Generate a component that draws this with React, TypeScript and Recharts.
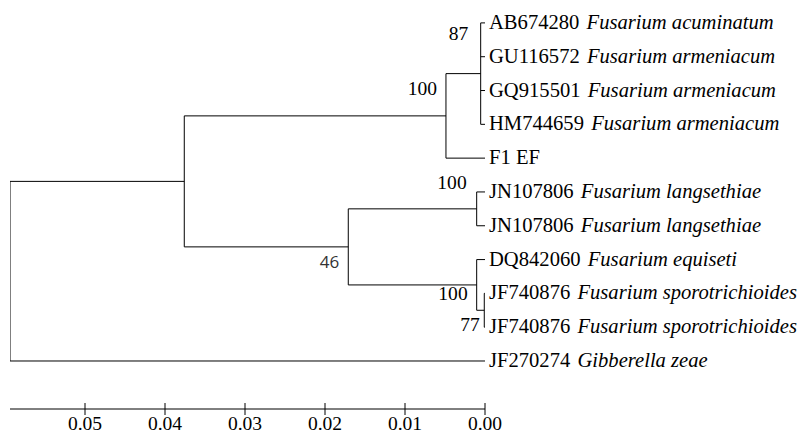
import React from "react";
import { ComposedChart, Line, XAxis, YAxis } from "recharts";

// ---- data ----
const tipAccessions = [
  "AB674280",
  "GU116572",
  "GQ915501",
  "HM744659",
  "F1 EF",
  "JN107806",
  "JN107806",
  "DQ842060",
  "JF740876",
  "JF740876",
  "JF270274",
];
const tipSpecies = [
  "Fusarium acuminatum",
  "Fusarium armeniacum",
  "Fusarium armeniacum",
  "Fusarium armeniacum",
  "",
  "Fusarium langsethiae",
  "Fusarium langsethiae",
  "Fusarium equiseti",
  "Fusarium sporotrichioides",
  "Fusarium sporotrichioides",
  "Gibberella zeae",
];
// internal nodes (children listed before parents)
const nodeIds = ["n87", "n100a", "n100b", "n77", "n100c", "n46", "nA", "root"];
const nodeDepths = [0.00054, 0.00488, 0.00104, 0.00009, 0.00104, 0.01709, 0.03759, 0.059375];
const nodeChildren = [
  ["t0", "t1", "t2", "t3"],
  ["n87", "t4"],
  ["t5", "t6"],
  ["t8", "t9"],
  ["t7", "n77"],
  ["n100b", "n100c"],
  ["n100a", "n46"],
  ["nA", "t10"],
];
const nodeSupport: (number | null)[] = [87, 100, 100, 77, 100, 46, null, null];
const scaleTicks = [0, 0.01, 0.02, 0.03, 0.04, 0.05];

// ---- styles (label placement relative to node, in px) ----
const supportLabelStyle = [
  { dx: -12.5, dy: -33.5, font: "serif" },
  { dx: -9, dy: -20.5, font: "serif" },
  { dx: -10, dy: -20, font: "serif" },
  { dx: -4.5, dy: 20.5, font: "serif" },
  { dx: -9, dy: 15.5, font: "serif" },
  { dx: -9, dy: 21.5, font: "sans" },
];

const SERIF = "'Liberation Serif', 'Times New Roman', Tinos, 'DejaVu Serif', serif";
const SANS = "'Open Sans', 'Noto Sans', sans-serif";
const FONT_SIZE = 20;
const STRETCH = 1.03;

// ---- tree layout from data ----
type P = { x: number; y: number };
const pos: Record<string, P> = {};
tipAccessions.forEach((_, i) => {
  pos["t" + i] = { x: 0, y: i };
});
nodeIds.forEach((id, k) => {
  const ch = nodeChildren[k].map((c) => pos[c]);
  pos[id] = { x: nodeDepths[k], y: (ch[0].y + ch[ch.length - 1].y) / 2 };
});

const segments: P[][] = [];
nodeIds.forEach((id, k) => {
  const d = nodeDepths[k];
  const ch = nodeChildren[k].map((c) => pos[c]);
  segments.push([
    { x: d, y: ch[0].y },
    { x: d, y: ch[ch.length - 1].y },
  ]);
  ch.forEach((c) => {
    segments.push([
      { x: d, y: c.y },
      { x: c.x, y: c.y },
    ]);
  });
});

const tipData = tipAccessions.map((acc, i) => ({
  x: 0,
  y: i,
  acc,
  species: tipSpecies[i],
}));

const supportData = nodeIds
  .map((id, k) => ({ ...pos[id], support: nodeSupport[k], k }))
  .filter((d) => d.support !== null);

// ---- renderers ----
const renderTipLabel = (props: any) => {
  const { x, y, index } = props;
  const d = tipData[index];
  if (!d) return null;
  return (
    <text
      key={"tip" + index}
      x={0}
      y={0}
      transform={`translate(${x + 4},${y + 6}) scale(${STRETCH},1)`}
      fontSize={FONT_SIZE}
      fill="#000"
      style={{ whiteSpace: "pre", fontFamily: SERIF }}
    >
      <tspan>{d.acc}</tspan>
      {d.species ? (
        <tspan fontStyle="italic" dx={7}>
          {d.species}
        </tspan>
      ) : null}
    </text>
  );
};

const renderSupportLabel = (props: any) => {
  const { x, y, index } = props;
  const d = supportData[index];
  if (!d) return null;
  const st = supportLabelStyle[d.k];
  const sans = st.font === "sans";
  return (
    <text
      key={"sup" + index}
      x={0}
      y={0}
      transform={`translate(${x + st.dx},${y + st.dy}) scale(${sans ? 1 : STRETCH},1)`}
      textAnchor="end"
      fontSize={sans ? 17 : FONT_SIZE - 1}
      fill={sans ? "#333" : "#000"}
      style={{ fontFamily: sans ? SANS : SERIF }}
    >
      {d.support}
    </text>
  );
};

const ScaleTick = (props: any) => {
  const { x, y, payload } = props;
  return (
    <g>
      <line x1={x} x2={x} y1={y - 12} y2={y - 6} stroke="#000" strokeWidth={1} />
      <text
        x={0}
        y={0}
        transform={`translate(${x},${y + 14.5}) scale(${STRETCH},1)`}
        textAnchor="middle"
        fontSize={FONT_SIZE - 1}
        fill="#000"
        style={{ fontFamily: SERIF }}
      >
        {Number(payload.value).toFixed(2)}
      </text>
    </g>
  );
};

export default function App() {
  return (
    <div
      style={{
        position: "absolute",
        left: 0,
        top: 0,
        background: "#fff",
        fontFamily: SERIF,
      }}
    >
      <ComposedChart
        width={803}
        height={432}
        margin={{ top: 6, right: 318, bottom: 0, left: 10 }}
      >
        <XAxis
          type="number"
          dataKey="x"
          domain={[0, 0.059375]}
          reversed
          ticks={scaleTicks}
          height={23}
          axisLine={{ stroke: "#000", strokeWidth: 1 }}
          tickLine={{ stroke: "#000", strokeWidth: 1 }}
          tickSize={6}
          tickMargin={0}
          tick={<ScaleTick />}
          interval={0}
          allowDataOverflow
        />
        <YAxis type="number" dataKey="y" domain={[-0.5, 11.42]} reversed hide allowDataOverflow />
        {segments.map((seg, i) => (
          <Line
            key={"seg" + i}
            data={seg}
            dataKey="y"
            stroke="#000"
            strokeWidth={1}
            dot={false}
            activeDot={false}
            isAnimationActive={false}
            type="linear"
          />
        ))}
        <Line
          data={tipData}
          dataKey="y"
          stroke="none"
          dot={false}
          activeDot={false}
          isAnimationActive={false}
          label={renderTipLabel}
        />
        <Line
          data={supportData}
          dataKey="y"
          stroke="none"
          dot={false}
          activeDot={false}
          isAnimationActive={false}
          label={renderSupportLabel}
        />
      </ComposedChart>
    </div>
  );
}
